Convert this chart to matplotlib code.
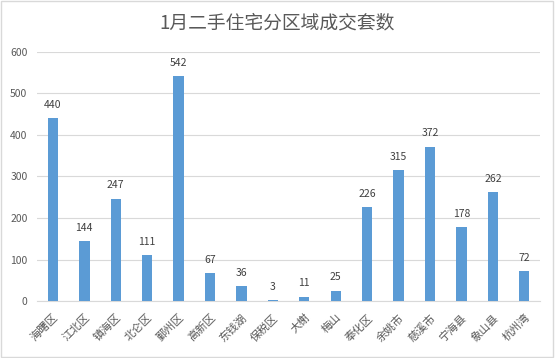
import numpy as np
import matplotlib.pyplot as plt
from matplotlib.patches import Rectangle

plt.rcParams['font.family'] = ['Noto Sans CJK SC', 'DejaVu Sans']

# 区域和成交套数
districts = ["海曙区", "江北区", "镇海区", "北仑区", "鄞州区", "高新区", "东钱湖", "保税区",
             "大榭", "梅山", "奉化区", "余姚市", "慈溪市", "宁海县", "象山县", "杭州湾"]
deals = [440, 144, 247, 111, 542, 67, 36, 3, 11, 25, 226, 315, 372, 178, 262, 72]

fig = plt.figure(figsize=(5.55, 3.58), dpi=100)
ax = fig.add_axes([0.067, 0.159, 0.906, 0.696])

x = np.arange(len(districts))
ax.bar(x, deals, width=0.33, color="#5B9BD5", zorder=3)
for xi, v in zip(x, deals):
    ax.text(xi, v + 20, str(v), ha="center", va="bottom", fontsize=7.5, color="#404040")

ax.set_xlim(-0.5, len(districts) - 0.5)
ax.set_ylim(0, 600)
ax.set_yticks(range(0, 601, 100))
ax.yaxis.grid(True, color="#D9D9D9", linewidth=0.8, zorder=0)
for s in ["top", "right", "left"]:
    ax.spines[s].set_visible(False)
ax.spines["bottom"].set_color("#D9D9D9")
ax.tick_params(axis="both", length=0, colors="#595959", labelsize=7.5)
ax.tick_params(axis="y", pad=7)
ax.tick_params(axis="x", pad=8)
ax.set_xticks(x)
ax.set_xticklabels(districts, rotation=45, ha="right", rotation_mode="anchor", fontsize=8)

fig.text(0.5, 0.935, "1月二手住宅分区域成交套数", ha="center", va="center", fontsize=13.5, color="#595959")
fig.patches.append(Rectangle((0.002, 0.003), 0.995, 0.994, transform=fig.transFigure,
                             fill=False, edgecolor="#D9D9D9", linewidth=1))

fig.savefig("out.png", dpi=100)
